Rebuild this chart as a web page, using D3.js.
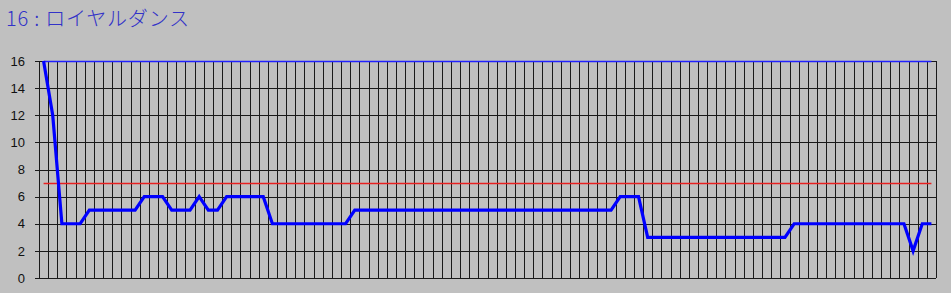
<!DOCTYPE html>
<html>
<head>
<meta charset="utf-8">
<script src="https://cdn.jsdelivr.net/npm/d3@7"></script>
<style>
  body { margin: 0; background: #c0c0c0; }
  svg { display: block; }
</style>
</head>
<body>
<div id="chart"></div>
<script>
const title = "16 : ロイヤルダンス";

// Rank per race (98 races)
const ranks = [
  16, 12, 4, 4, 4, 5, 5, 5, 5, 5,
  5, 6, 6, 6, 5, 5, 5, 6, 5, 5,
  6, 6, 6, 6, 6, 4, 4, 4, 4, 4,
  4, 4, 4, 4, 5, 5, 5, 5, 5, 5,
  5, 5, 5, 5, 5, 5, 5, 5, 5, 5,
  5, 5, 5, 5, 5, 5, 5, 5, 5, 5,
  5, 5, 5, 6, 6, 6, 3, 3, 3, 3,
  3, 3, 3, 3, 3, 3, 3, 3, 3, 3,
  3, 3, 4, 4, 4, 4, 4, 4, 4, 4,
  4, 4, 4, 4, 4, 2, 4, 4
];
const refLevel = 7;   // red reference line
const maxLevel = 16;  // thin blue top line
const yTicks = [0, 2, 4, 6, 8, 10, 12, 14, 16];

const W = 951, H = 293;
const margin = { top: 61, right: 15, bottom: 15, left: 39 };

const svg = d3.select("#chart")
  .append("svg")
  .attr("width", W)
  .attr("height", H);

svg.append("rect")
  .attr("width", W)
  .attr("height", H)
  .attr("fill", "#c0c0c0");

// Title
svg.append("text")
  .attr("x", 6)
  .attr("y", 26)
  .attr("fill", "#3232c8")
  .attr("font-family", "'Noto Sans CJK JP', sans-serif")
  .attr("font-size", 20)
  .attr("font-weight", 300)
  .attr("letter-spacing", 0.8)
  .text(title);

const idx = d3.range(ranks.length);

const x = d3.scaleBand()
  .domain(idx)
  .range([margin.left, W - margin.right])
  .padding(0);

const y = d3.scaleLinear()
  .domain([0, 16])
  .range([H - margin.bottom, margin.top]);

const cx = i => x(i) + x.bandwidth() / 2;

// Horizontal grid + y axis
const yAxis = d3.axisLeft(y)
  .tickValues(yTicks)
  .tickSize(-(W - margin.right - margin.left) - 4)
  .tickSizeOuter(0)
  .tickPadding(-1);

const gy = svg.append("g")
  .attr("transform", `translate(${margin.left - 4},0)`)
  .call(yAxis);
gy.select(".domain").remove();
gy.selectAll(".tick line")
  .attr("stroke", "#1a1a1a")
  .attr("shape-rendering", "crispEdges");
gy.selectAll(".tick text")
  .attr("x", -10)
  .attr("fill", "#111")
  .attr("font-family", "'Liberation Sans', Arial, sans-serif")
  .attr("font-size", 13);

// Vertical grid at band boundaries
const bounds = idx.map(i => x(i)).concat([x.range()[1]]);
svg.append("g")
  .selectAll("line")
  .data(bounds)
  .join("line")
  .attr("x1", d => Math.round(d) + 0.5)
  .attr("x2", d => Math.round(d) + 0.5)
  .attr("y1", y(16))
  .attr("y2", y(0))
  .attr("stroke", "#1a1a1a")
  .attr("stroke-width", 1);

// Flat lines (top + reference) from first to last point
const ends = [0, ranks.length - 1];
const flat = level => d3.line()
  .x(i => cx(i))
  .y(() => Math.round(y(level)) + 0.5)(ends);

svg.append("path")
  .attr("d", flat(maxLevel))
  .attr("fill", "none")
  .attr("stroke", "#2020ff")
  .attr("stroke-width", 1.5);

svg.append("path")
  .attr("d", flat(refLevel))
  .attr("fill", "none")
  .attr("stroke", "#e82020")
  .attr("stroke-width", 1.5);

// Rank line
const rankLine = d3.line()
  .x((d, i) => cx(i))
  .y(d => y(d));

svg.append("path")
  .datum(ranks)
  .attr("d", rankLine)
  .attr("fill", "none")
  .attr("stroke", "#0000ff")
  .attr("stroke-width", 3.2)
  .attr("stroke-linejoin", "miter");
</script>
</body>
</html>
